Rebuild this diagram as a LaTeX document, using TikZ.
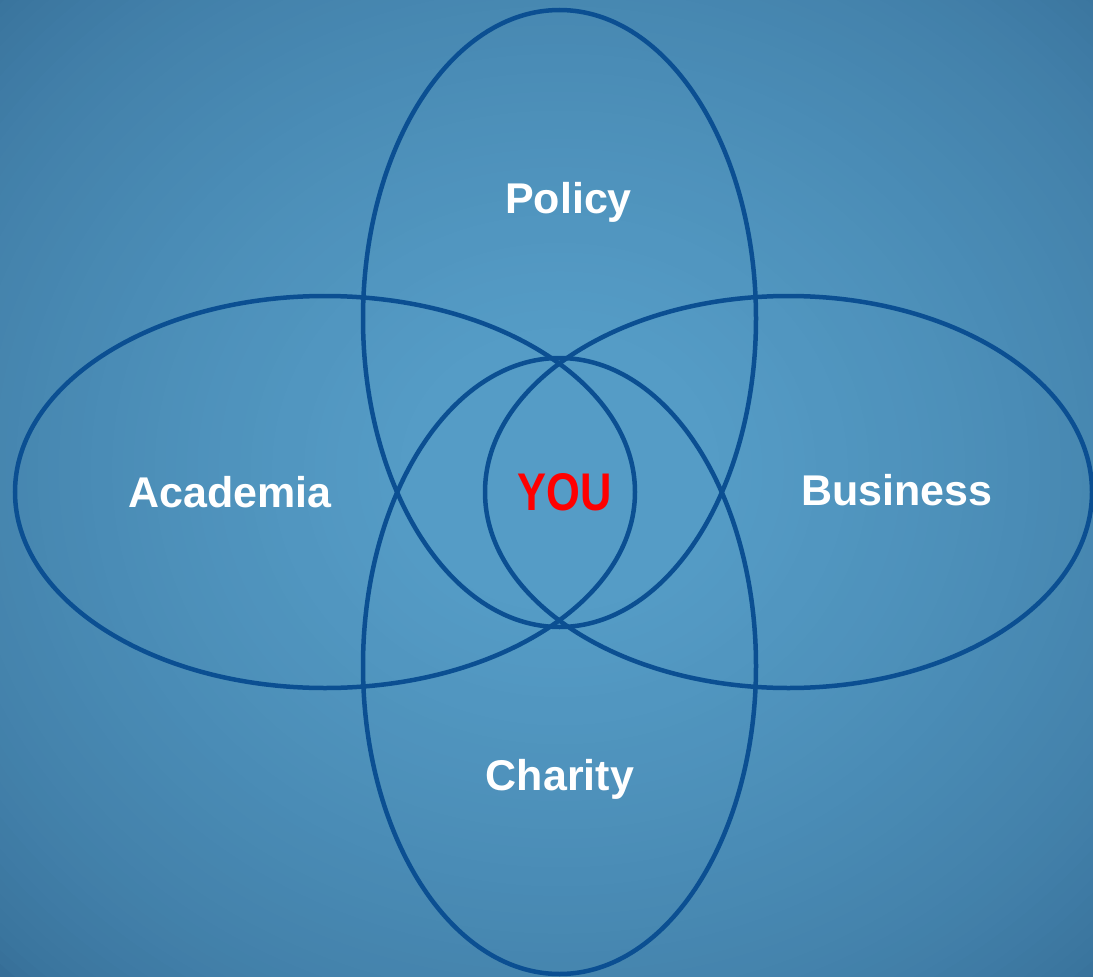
\documentclass[tikz,border=0pt]{standalone}
\usepackage{fontspec}
\setmainfont{Liberation Sans}
\definecolor{bginner}{HTML}{559CC6}
\definecolor{bgouter}{HTML}{366E97}
\definecolor{ringblue}{HTML}{0B4F92}
\definecolor{youred}{HTML}{FF0000}
\tikzset{
  ring/.style={draw=ringblue, line width=4.5pt},
  label/.style={text=white, font=\fontsize{43pt}{50pt}\selectfont\bfseries, anchor=base, inner sep=0pt},
  youlabel/.style={text=youred, font=\fontsize{53pt}{60pt}\selectfont\bfseries, anchor=base, inner sep=0pt}
}
\begin{document}
\begin{tikzpicture}[x=1pt,y=-1pt]
  \useasboundingbox (0,0) rectangle (1093,977);
  \begin{scope}
    \clip (0,0) rectangle (1093,977);
    \fill[bgouter] (0,0) rectangle (1093,977);
    \foreach \i in {0,...,60}{
      \pgfmathsetmacro{\f}{1-0.8*\i/60}
      \pgfmathtruncatemacro{\p}{100*(\i/60)^0.65}
      \fill[bginner!\p!bgouter] (560,470) ellipse [x radius=800*\f, y radius=710*\f];
    }
  \end{scope}
  % ellipses
  \draw[ring] (325,492) ellipse [x radius=310, y radius=196];
  \draw[ring] (788.5,492) ellipse [x radius=303.5, y radius=196];
  \draw[ring] (559.5,318.5) ellipse [x radius=196.5, y radius=308.5];
  \draw[ring] (559.5,666) ellipse [x radius=196.5, y radius=308];
  % labels
  \node[label] (policy) at (568.5,213) {Policy};
  \node[label] (academia) at (230,507) {Academia};
  \node[label] (business) at (897,505) {Business};
  \node[label] (charity) at (560,790) {Charity};
  \node[youlabel] (you) at (565,510) {\scalebox{0.82}[1]{YOU}};
\end{tikzpicture}
\end{document}
